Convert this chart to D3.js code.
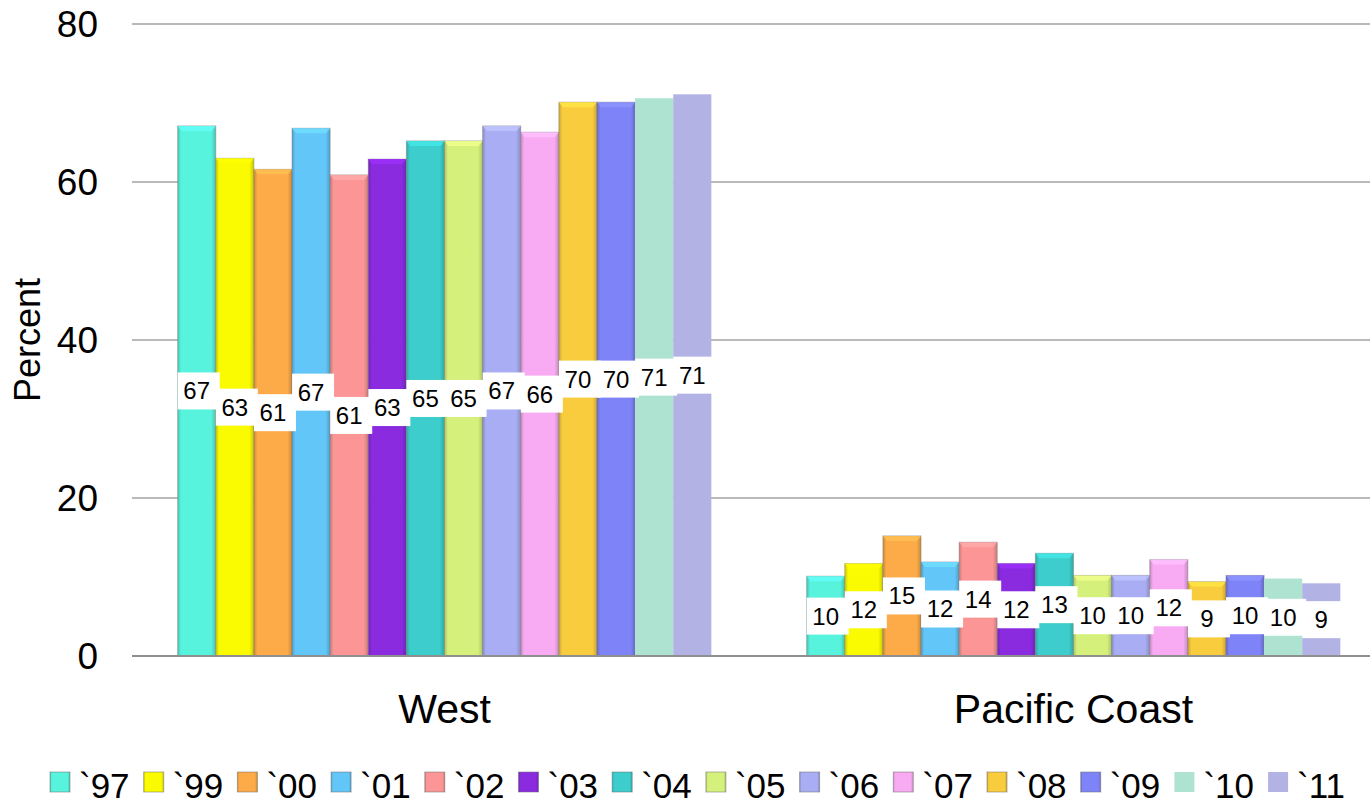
<!DOCTYPE html>
<html>
<head>
<meta charset="utf-8">
<style>
  body { margin: 0; background: #fff; }
  svg { display: block; font-family: "Liberation Sans", Arial, sans-serif; }
</style>
</head>
<body>
<svg id="chart" width="1370" height="804"></svg>
<script src="https://d3js.org/d3.v7.min.js"></script>
<script>
// data
var categories = ["West", "Pacific Coast"];
var years = ["`97", "`99", "`00", "`01", "`02", "`03", "`04", "`05", "`06", "`07", "`08", "`09", "`10", "`11"];
var westValues = [67.1, 63.0, 61.6, 66.8, 60.9, 62.9, 65.2, 65.2, 67.1, 66.3, 70.1, 70.1, 70.6, 71.1];
var pacificValues = [10.1, 11.7, 15.2, 11.9, 14.4, 11.7, 13.0, 10.2, 10.2, 12.2, 9.4, 10.2, 9.8, 9.2];
var westLabels = [67, 63, 61, 67, 61, 63, 65, 65, 67, 66, 70, 70, 71, 71];
var pacificLabels = [10, 12, 15, 12, 14, 12, 13, 10, 10, 12, 9, 10, 10, 9];
var yTicks = [0, 20, 40, 60, 80];
var colors = ["#58F3DD", "#FAFA00", "#FDAA48", "#63C6F8", "#FC9696", "#8A2BDF", "#3CCDCC", "#D5F17C",
              "#A9AEF4", "#F8ABF2", "#F9CC3E", "#7E84F8", "#ADE3D0", "#B2B2E4"];
var flat = [false, false, false, false, false, false, false, false, false, false, false, false, true, true];

var svg = d3.select("#chart");
var plotLeft = 132, plotRight = 1370;

var y = d3.scaleLinear().domain([0, 80]).range([656, 24]);
var x0 = d3.scaleBand().domain(categories).range([130, 1388]);
var x1 = d3.scaleBand().domain(years).range([0, x0.bandwidth()]).paddingInner(0).paddingOuter(1.25);

// gradients for the bevelled bars
var defs = svg.append("defs");
colors.forEach(function(c, i) {
  var g = defs.append("linearGradient").attr("id", "g" + i).attr("x1", 0).attr("x2", 1).attr("y1", 0).attr("y2", 0);
  var dark = d3.color(c).darker(0.6);
  if (flat[i]) {
    g.append("stop").attr("offset", "0%").attr("stop-color", c);
    g.append("stop").attr("offset", "100%").attr("stop-color", c);
  } else {
    g.append("stop").attr("offset", "0%").attr("stop-color", dark);
    g.append("stop").attr("offset", "9%").attr("stop-color", c);
    g.append("stop").attr("offset", "88%").attr("stop-color", c);
    g.append("stop").attr("offset", "100%").attr("stop-color", dark);
  }
});

// grid
svg.append("g").selectAll("line")
  .data(yTicks.filter(function(d) { return d > 0; }))
  .enter().append("line")
  .attr("x1", plotLeft).attr("x2", plotRight)
  .attr("y1", function(d) { return y(d); }).attr("y2", function(d) { return y(d); })
  .attr("stroke", "#a3a3a3").attr("stroke-width", 1.3);

// y axis labels
svg.append("g").selectAll("text")
  .data(yTicks)
  .enter().append("text")
  .attr("x", 98).attr("y", function(d) { return y(d) + 13; })
  .attr("text-anchor", "end").attr("font-size", 37).attr("fill", "#000")
  .text(function(d) { return d; });

svg.append("text")
  .attr("transform", "translate(40,340) rotate(-90)")
  .attr("text-anchor", "middle").attr("font-size", 36)
  .text("Percent");

var series = [
  { cat: "West", values: westValues, labels: westLabels },
  { cat: "Pacific Coast", values: pacificValues, labels: pacificLabels }
];

var bw = x1.bandwidth();
var groups = svg.append("g").selectAll("g")
  .data(series).enter().append("g")
  .attr("transform", function(s) { return "translate(" + x0(s.cat) + ",0)"; });

groups.each(function(s) {
  var g = d3.select(this);
  var items = years.map(function(yr, i) { return { yr: yr, i: i, v: s.values[i], lab: s.labels[i] }; });

  var bars = g.selectAll("g.bar").data(items).enter().append("g").attr("class", "bar");
  bars.append("rect")
    .attr("x", function(d) { return x1(d.yr); })
    .attr("y", function(d) { return y(d.v); })
    .attr("width", bw)
    .attr("height", function(d) { return y(0) - y(d.v); })
    .attr("fill", function(d) { return "url(#g" + d.i + ")"; })
    .attr("stroke", function(d) { return flat[d.i] ? "none" : "rgba(120,120,120,0.45)"; })
    .attr("stroke-width", 1);
  // top bevel
  bars.filter(function(d) { return !flat[d.i]; }).append("path")
    .attr("d", function(d) {
      var l = x1(d.yr), r = l + bw, t = y(d.v);
      return "M" + l + "," + t + "L" + r + "," + t + "L" + (r - 4) + "," + (t + 5) + "L" + (l + 4) + "," + (t + 5) + "Z";
    })
    .attr("fill", function(d) { return d3.color(colors[d.i]).brighter(0.35); })
    .attr("opacity", 0.8);

  var labs = g.selectAll("g.lab").data(items).enter().append("g").attr("class", "lab");
  labs.append("rect")
    .attr("x", function(d) { return x1(d.yr) + bw / 2 - 19; })
    .attr("y", function(d) { return y(d.v / 2) - 18.5; })
    .attr("width", 42).attr("height", 37)
    .attr("fill", "#fff");
  labs.append("text")
    .attr("x", function(d) { return x1(d.yr) + bw / 2; })
    .attr("y", function(d) { return y(d.v / 2) + 8.5; })
    .attr("text-anchor", "middle").attr("font-size", 24)
    .text(function(d) { return d.lab; });
});

// baseline
svg.append("line")
  .attr("x1", plotLeft).attr("x2", plotRight)
  .attr("y1", y(0)).attr("y2", y(0))
  .attr("stroke", "#8f8f8f").attr("stroke-width", 2);

// category labels
svg.append("g").selectAll("text")
  .data(categories).enter().append("text")
  .attr("x", function(d) { return x0(d) + x0.bandwidth() / 2; })
  .attr("y", 723)
  .attr("text-anchor", "middle").attr("font-size", 41)
  .text(function(d) { return d; });

// legend
var legend = svg.append("g").selectAll("g")
  .data(years).enter().append("g")
  .attr("transform", function(d, i) { return "translate(" + (50 + i * 93.7) + ",0)"; });
legend.append("rect")
  .attr("x", 0).attr("y", 772).attr("width", 20).attr("height", 20)
  .attr("fill", function(d, i) { return "url(#g" + i + ")"; })
  .attr("stroke", function(d, i) { return flat[i] ? "none" : "rgba(110,110,110,0.5)"; });
legend.append("text")
  .attr("x", 29).attr("y", 798)
  .attr("font-size", 35)
  .text(function(d) { return d; });
</script>
</body>
</html>
